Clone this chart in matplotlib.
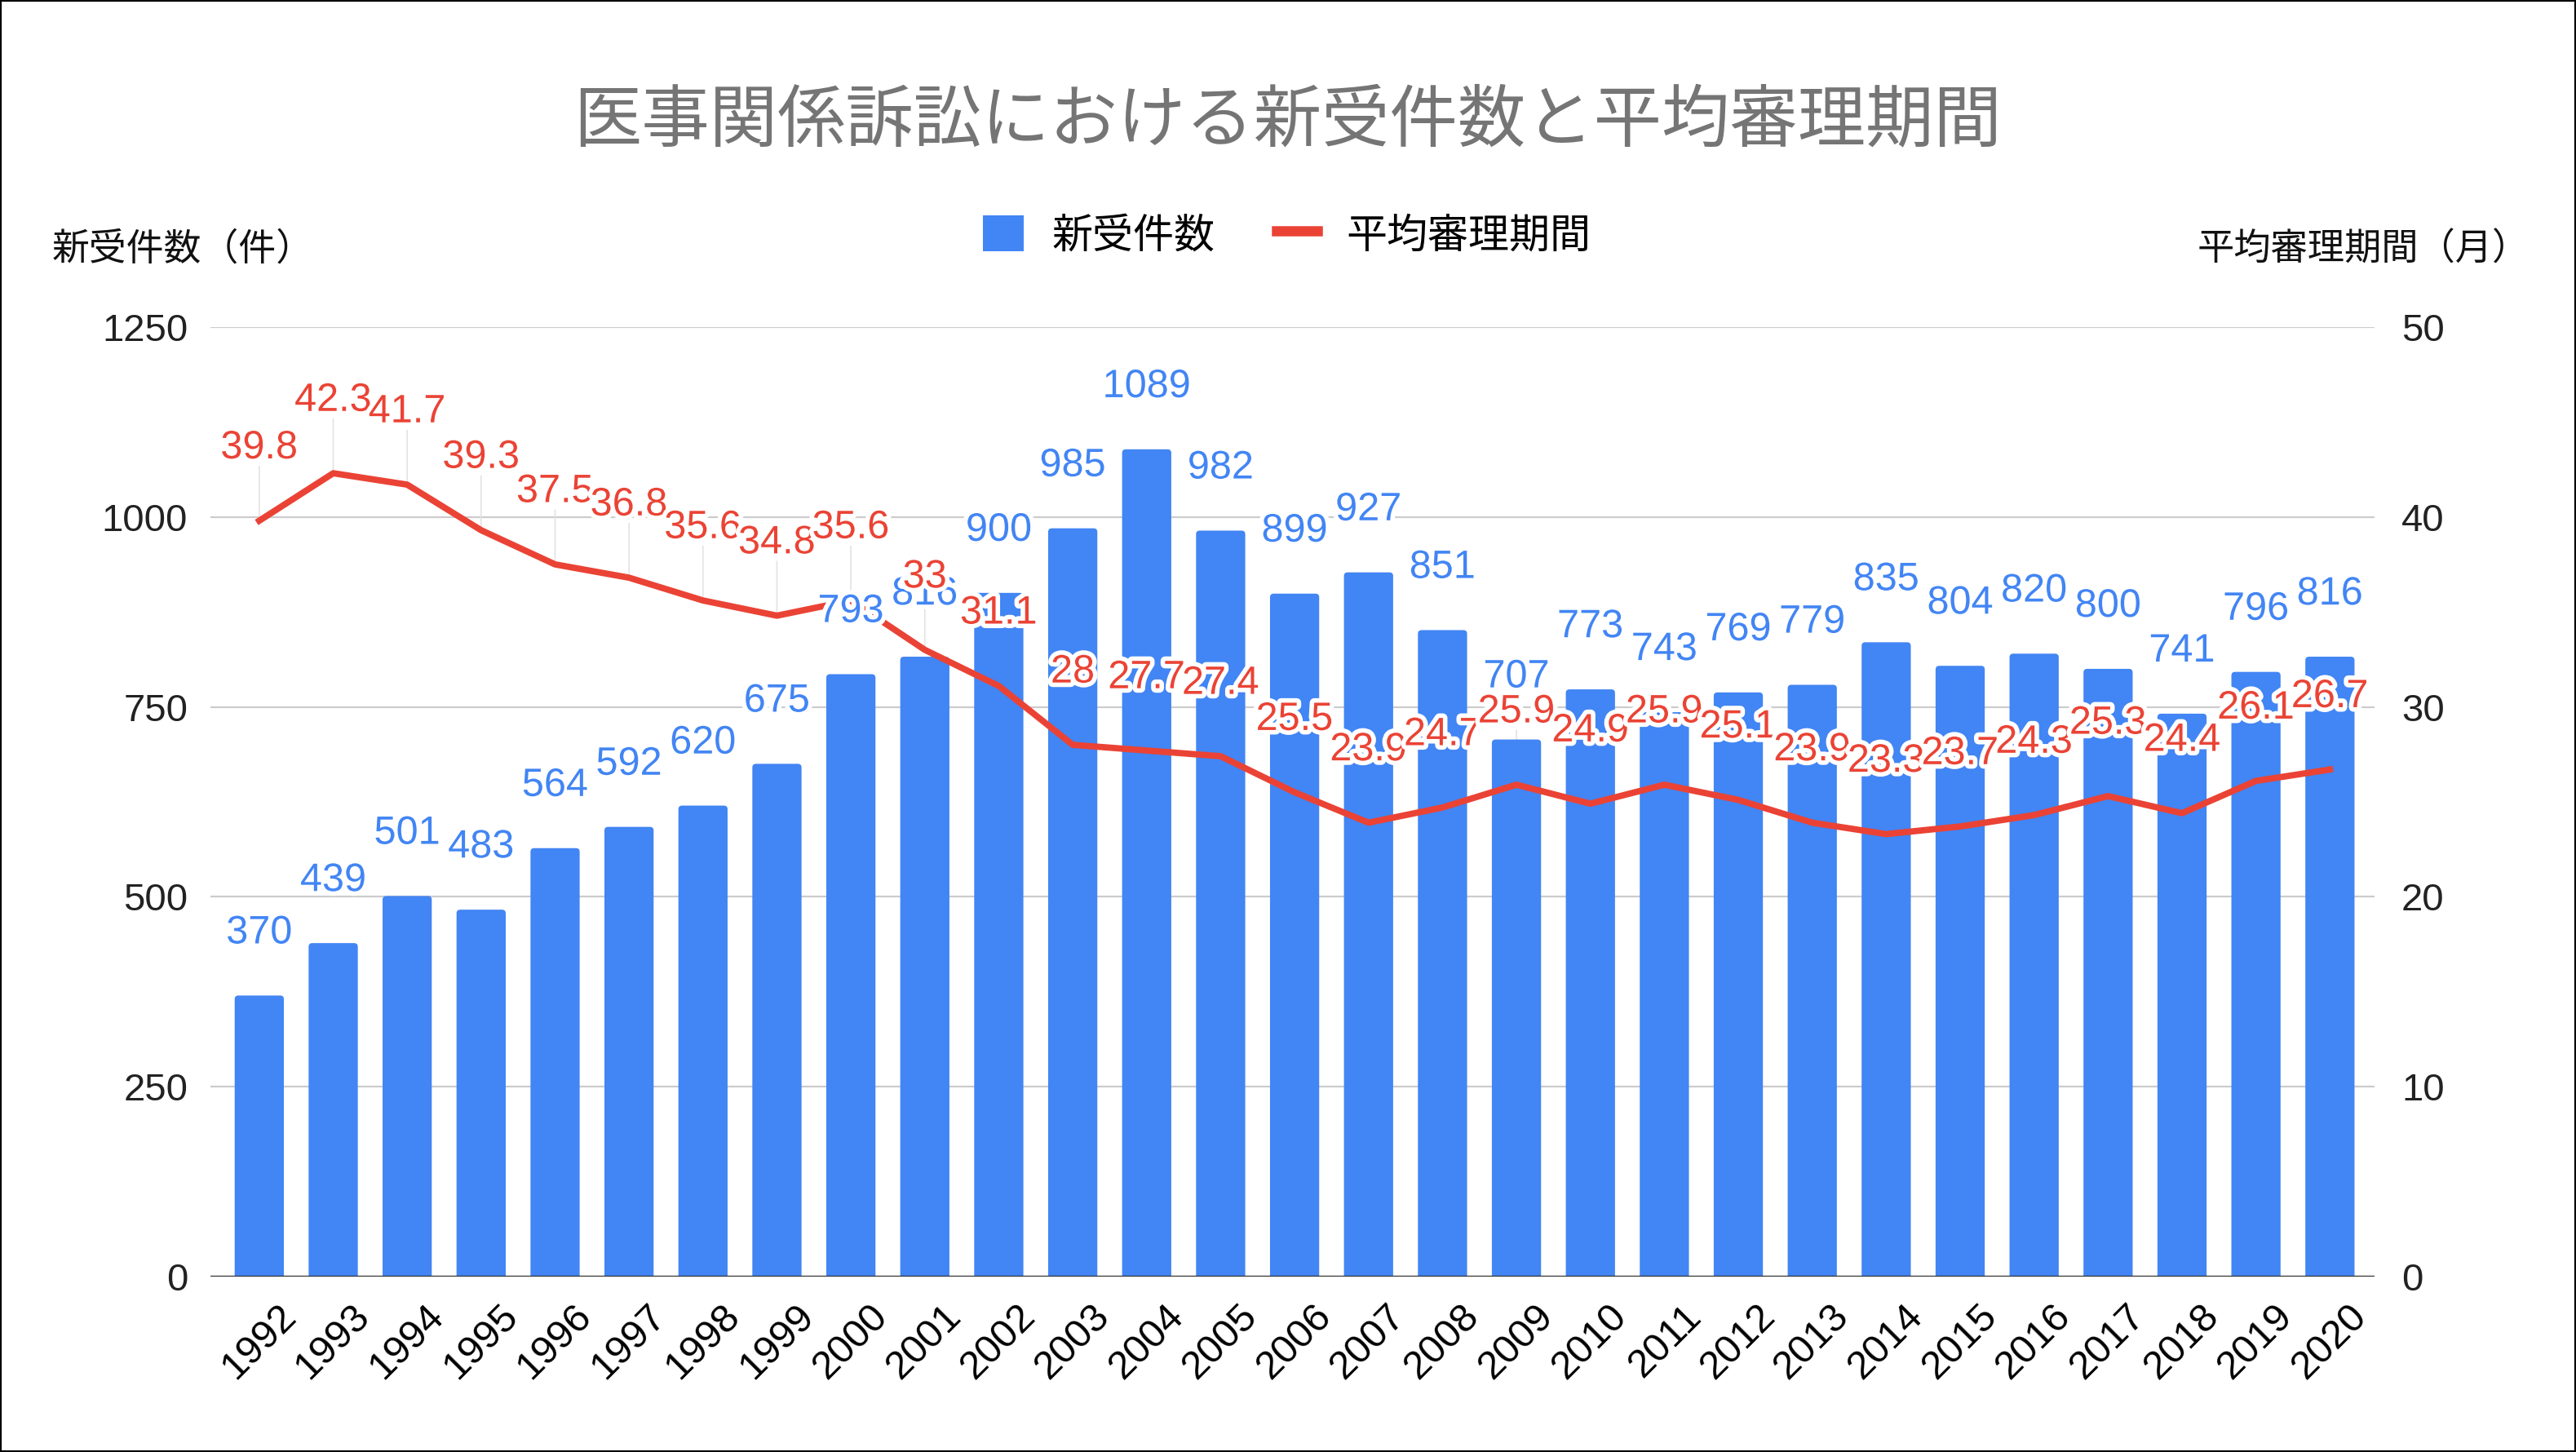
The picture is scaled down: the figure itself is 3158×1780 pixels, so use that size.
import matplotlib
matplotlib.use('Agg')
import matplotlib.pyplot as plt
import matplotlib.patheffects as pe
from matplotlib.transforms import ScaledTranslation
from matplotlib.lines import Line2D
from matplotlib.patches import Patch, Rectangle, FancyBboxPatch

# ---------------- data ----------------
years = [str(y) for y in range(1992, 2021)]
new_cases = [370, 439, 501, 483, 564, 592, 620, 675, 793, 816,
             900, 985, 1089, 982, 899, 927, 851, 707, 773, 743,
             769, 779, 835, 804, 820, 800, 741, 796, 816]
avg_months = [39.8, 42.3, 41.7, 39.3, 37.5, 36.8, 35.6, 34.8, 35.6, 33,
              31.1, 28, 27.7, 27.4, 25.5, 23.9, 24.7, 25.9, 24.9, 25.9,
              25.1, 23.9, 23.3, 23.7, 24.3, 25.3, 24.4, 26.1, 26.7]
left_ticks = [0, 250, 500, 750, 1000, 1250]
right_ticks = [0, 10, 20, 30, 40, 50]

title = '医事関係訴訟における新受件数と平均審理期間'
series_bar = '新受件数'
series_line = '平均審理期間'
left_label = '新受件数（件）'
right_label = '平均審理期間（月）'

BLUE = '#4285F4'
RED = '#EA4335'

plt.rcParams['font.family'] = ['Liberation Sans', 'Noto Sans CJK JP', 'DejaVu Sans']

fig = plt.figure(figsize=(15.79, 8.90), dpi=200)
ax1 = fig.add_axes([0.0817, 0.1208, 0.840, 0.654])
ax2 = ax1.twinx()

x = list(range(len(years)))
ax1.set_xlim(-0.66, len(years) - 1 + 0.6)
ax1.set_ylim(left_ticks[0], left_ticks[-1])
ax2.set_ylim(right_ticks[0], right_ticks[-1])

# grid
ax1.set_yticks(left_ticks)
ax2.set_yticks(right_ticks)
ax1.yaxis.grid(True, color='#cccccc', lw=0.8, zorder=0)
ax1.set_axisbelow(True)
for ax in (ax1, ax2):
    for s in ax.spines.values():
        s.set_visible(False)
ax1.axhline(0, color='#333333', lw=1.2, zorder=2.5)

# leader lines (below bars)
for i, v in zip(x, avg_months):
    ax1.annotate('', xy=(i, v), xycoords=ax2.transData,
                 xytext=(0, 24), textcoords='offset points',
                 arrowprops=dict(arrowstyle='-', color='#e3e3e3', lw=0.6,
                                 shrinkA=0, shrinkB=0),
                 zorder=1)

# bars (rounded top corners)
bars = ax1.bar(x, new_cases, width=0.665, color=BLUE, zorder=2)
for r in bars:
    r.set_visible(False)
    bx, by, bw, bh = r.get_x(), r.get_y(), r.get_width(), r.get_height()
    p = FancyBboxPatch((bx, by - 15), bw, bh + 15,
                       boxstyle='round,pad=0,rounding_size=0.05',
                       mutation_aspect=95, facecolor=BLUE, edgecolor='none',
                       zorder=2)
    ax1.add_patch(p)

# line (in right-axis coordinates)
ax1.plot(x, avg_months, color=RED, lw=2.8, zorder=3,
         transform=ax2.transData, solid_joinstyle='round')

halo = [pe.withStroke(linewidth=4, foreground='white')]
for i, v in zip(x, new_cases):
    ax1.annotate(f'{v}', xy=(i, v), xytext=(0, 27.5), textcoords='offset points',
                 ha='center', va='center', fontsize=17.5, color=BLUE,
                 zorder=4, path_effects=halo)
for i, v in zip(x, avg_months):
    ax1.annotate(f'{v:g}', xy=(i, v), xycoords=ax2.transData,
                 xytext=(0, 32), textcoords='offset points',
                 ha='center', va='center', fontsize=17.5, color=RED,
                 zorder=5, path_effects=halo)

# ticks
ax1.set_xticks(x)
ax1.set_xticklabels(years, rotation=45, ha='right', va='top',
                    rotation_mode='anchor', fontsize=17.5)
ax1.tick_params(axis='x', length=0, pad=0)
off = ScaledTranslation(0.11, -0.13, fig.dpi_scale_trans)
for lab in ax1.get_xticklabels():
    lab.set_transform(lab.get_transform() + off)
ax1.tick_params(axis='y', length=0, pad=10, labelsize=17, labelcolor='#222222')
ax2.tick_params(axis='y', length=0, pad=12, labelsize=17, labelcolor='#222222')
ax1.set_yticklabels([str(t) for t in left_ticks])
ax2.set_yticklabels([str(t) for t in right_ticks])

# titles
fig.text(0.5, 0.915, title, ha='center', va='center', fontsize=30, color='#757575')
fig.text(0.0203, 0.828, left_label, ha='left', va='center', fontsize=16.5, color='#111111')
fig.text(0.982, 0.828, right_label, ha='right', va='center', fontsize=16.3, color='#111111')

handles = [Patch(facecolor=BLUE, edgecolor='none'),
           Line2D([], [], color=RED, lw=4.5)]
fig.legend(handles, [series_bar, series_line], loc='center',
           bbox_to_anchor=(0.4995, 0.838), ncol=2, frameon=False, fontsize=18,
           handlelength=1.0, handleheight=1.0, handletextpad=0.7,
           columnspacing=1.5)

fig.patches.append(Rectangle((0, 0), 1, 1, transform=fig.transFigure,
                             fill=False, edgecolor='black', lw=1.5))

fig.savefig('out.png', dpi=200, facecolor='white')
